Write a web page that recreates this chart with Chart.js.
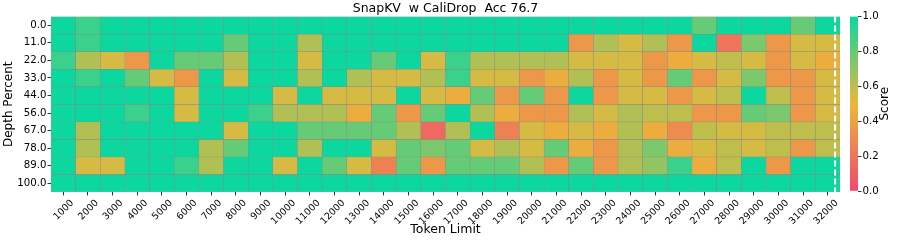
<!DOCTYPE html>
<html><head><meta charset="utf-8">
<script src="https://cdn.jsdelivr.net/npm/chart.js@4.4.1/dist/chart.umd.min.js"></script>
<style>
html,body{margin:0;padding:0;background:#fff;}
#wrap{position:relative;width:897px;height:241px;}
#main{position:absolute;left:0;top:0;}
#cbar{position:absolute;left:845px;top:0;}
</style></head><body>
<div id="wrap">
<canvas id="main" width="845" height="241"></canvas>
<canvas id="cbar" width="52" height="241"></canvas>
</div>
<script>
const tokenLimits = ['1000','2000','3000','4000','5000','6000','7000','8000','9000','10000','11000','12000','13000','14000','15000','16000','17000','18000','19000','20000','21000','22000','23000','24000','25000','26000','27000','28000','29000','30000','31000','32000'];
const depthLabels = ['0.0','11.0','22.0','33.0','44.0','56.0','67.0','78.0','89.0','100.0'];

const depth0   = [1,.9,1,1,1,1,1,1, 1,1,1,1,1,1,1,1, 1,1,1,1,1,1,1,1, 1,1,.8,1,1,1,.8,1];
const depth11  = [1,.9,1,1,1,1,1,.8, 1,1,.63,1,1,1,1,1, 1,1,1,1,1,.35,.63,.55, .63,.35,1,.2,.75,.35,.55,.55];
const depth22  = [.9,.63,.55,.35,1,.8,.8,.63, 1,1,.55,1,1,.8,1,.55, .9,.63,.63,.63,.63,.55,.55,.55, .35,.45,.55,.6,.55,.35,.55,.45];
const depth33  = [1,.9,1,.8,.55,.35,1,.55, 1,1,.63,1,.63,.55,.55,.63, .9,.55,.55,.35,.45,.63,.35,.55, .35,.8,.35,.55,.75,.35,.35,.55];
const depth44  = [1,1,1,1,1,.55,1,1, 1,.55,1,.55,.55,.55,1,.55, .45,.8,.35,.8,.35,1,.35,.55, .55,.35,.55,.6,1,.6,.35,.55];
const depth56  = [1,1,1,.9,1,.55,1,1, .9,.63,.63,.63,.45,.8,.35,.8, 1,.63,.45,.35,.35,.63,.55,.63, .6,.6,.35,.35,.8,.75,.35,.55];
const depth67  = [1,.63,1,1,1,1,1,.55, 1,1,.8,.8,.8,.8,.63,.15, .63,1,.25,.55,.45,.55,.45,.63, .45,.3,.6,.55,.55,.6,.6,.6];
const depth78  = [1,.63,1,1,1,1,.63,.8, 1,1,.63,1,1,.55,.8,.75, .8,.55,.63,.55,.8,.45,.35,.63, .75,.45,.55,.6,.55,.6,.35,.6];
const depth89  = [1,.55,.55,1,1,.9,.63,1, 1,.55,1,.8,.55,.25,.8,.35, .8,.8,.8,.63,.35,.8,.35,.63, .7,.9,.45,.6,1,.35,1,1];
const depth100 = [1,1,1,1,1,1,1,1, 1,1,1,1,1,1,1,1, 1,1,1,1,1,1,1,1, 1,1,1,1,1,1,1,1];
const depthRows = [depth0, depth11, depth22, depth33, depth44, depth56, depth67, depth78, depth89, depth100];

const cmapStops = [[0,[240,73,110]],[0.5,[235,184,57]],[1,[12,215,159]]];
const markerColumn = 31.8; // position of dashed marker, in column units

function cmap(v){
  v = Math.max(0, Math.min(1, v));
  let a = cmapStops[0], b = cmapStops[1];
  if (v > 0.5){ a = cmapStops[1]; b = cmapStops[2]; }
  const t = (v - a[0])/(b[0]-a[0]);
  const c = a[1].map((x,i)=>Math.round(x + (b[1][i]-x)*t));
  return `rgb(${c[0]},${c[1]},${c[2]})`;
}

const FONT = 'DejaVu Sans';
const datasets = depthRows.map((row, r) => ({
  label: depthLabels[r],
  data: row.map(() => 1),
  backgroundColor: row.map(cmap),
  borderColor: 'rgba(130,130,130,0.9)',
  borderWidth: 0.5,
  borderSkipped: false,
  barPercentage: 1,
  categoryPercentage: 1
}));

const markerPlugin = {
  id: 'marker',
  afterDatasetsDraw(chart){
    const xs = chart.scales.x, ca = chart.chartArea;
    const w = xs.getPixelForValue(1) - xs.getPixelForValue(0);
    const idx = Math.floor(markerColumn);
    const x = xs.getPixelForValue(idx) + (markerColumn - idx - 0.5)*w;
    const ctx = chart.ctx;
    ctx.save();
    ctx.strokeStyle = '#ffffff';
    ctx.lineWidth = 2;
    ctx.setLineDash([6,3]);
    ctx.beginPath();
    ctx.moveTo(x, ca.top);
    ctx.lineTo(x, ca.bottom);
    ctx.stroke();
    ctx.restore();
  }
};

new Chart(document.getElementById('main'), {
  type: 'bar',
  data: { labels: tokenLimits, datasets },
  plugins: [markerPlugin],
  options: {
    responsive: false,
    animation: false,
    events: [],
    layout: { padding: { left: 0, right: 5, top: 0, bottom: 0 } },
    plugins: {
      legend: { display: false },
      tooltip: { enabled: false },
      title: {
        display: true,
        fullSize: false,
        text: 'SnapKV  w CaliDrop  Acc 76.7',
        color: '#000',
        font: { family: FONT, size: 12.5, weight: 'normal' },
        padding: { top: 1.5, bottom: 0 }
      }
    },
    scales: {
      x: {
        stacked: true,
        offset: true,
        grid: { offset: false, drawOnChartArea: false, drawTicks: true, tickLength: 3.5, color: '#333' },
        border: { display: false },
        ticks: {
          autoSkip: false, minRotation: 45, maxRotation: 45,
          color: '#000', font: { family: FONT, size: 9.5 }, padding: 2, labelOffset: 9
        },
        title: { display: true, text: 'Token Limit', color: '#000', font: { family: FONT, size: 12.5 }, padding: { top: 0, bottom: 3.5 } },
        afterFit(s){ s.height = 49; }
      },
      y: {
        stacked: true,
        reverse: true,
        min: 0, max: 10,
        grid: { drawOnChartArea: false, drawTicks: true, tickLength: 3.5, color: '#333' },
        border: { display: false },
        afterBuildTicks(s){ s.ticks = depthLabels.map((_, i) => ({ value: i + 0.5 })); },
        ticks: {
          color: '#000', font: { family: FONT, size: 10.2 }, padding: 1,
          callback: (v) => depthLabels[Math.floor(v)]
        },
        title: { display: true, text: 'Depth Percent', color: '#000', font: { family: FONT, size: 12 }, padding: { top: 2, bottom: 0 } },
        afterFit(s){ s.width = 51; }
      }
    }
  }
});

// colorbar
const cbTicks = [0, 0.2, 0.4, 0.6, 0.8, 1.0];
const scoreLabelPlugin = {
  id: 'scoreLabel',
  afterDraw(chart){
    const ca = chart.chartArea, ctx = chart.ctx;
    ctx.save();
    ctx.translate(40, (ca.top + ca.bottom)/2);
    ctx.rotate(-Math.PI/2);
    ctx.fillStyle = '#000';
    ctx.font = `12px "${FONT}"`;
    ctx.textAlign = 'center';
    ctx.textBaseline = 'middle';
    ctx.fillText('Score', 0, 0);
    ctx.restore();
  }
};
new Chart(document.getElementById('cbar'), {
  type: 'bar',
  data: {
    labels: ['cb'],
    datasets: [{
      data: [[0, 1]],
      backgroundColor(ctx){
        const ca = ctx.chart.chartArea;
        if (!ca) return '#fff';
        const g = ctx.chart.ctx.createLinearGradient(0, ca.bottom, 0, ca.top);
        for (let i = 0; i <= 20; i++) g.addColorStop(i/20, cmap(i/20));
        return g;
      },
      borderWidth: 0,
      barPercentage: 1,
      categoryPercentage: 1
    }]
  },
  plugins: [scoreLabelPlugin],
  options: {
    responsive: false,
    animation: false,
    events: [],
    layout: { padding: { left: 5, right: 0, top: 16.5, bottom: 50 } },
    plugins: { legend: { display: false }, tooltip: { enabled: false }, title: { display: false } },
    scales: {
      x: { display: false },
      y: {
        position: 'right',
        min: 0, max: 1,
        grid: { drawOnChartArea: false, drawTicks: true, tickLength: 3.5, color: '#333' },
        border: { display: false },
        afterBuildTicks(s){ s.ticks = cbTicks.map(v => ({ value: v })); },
        ticks: { color: '#000', font: { family: FONT, size: 10.2 }, padding: 1, callback: (v) => v.toFixed(1) },
        afterFit(s){ s.width = 39; }
      }
    }
  }
});
</script>
</body></html>
